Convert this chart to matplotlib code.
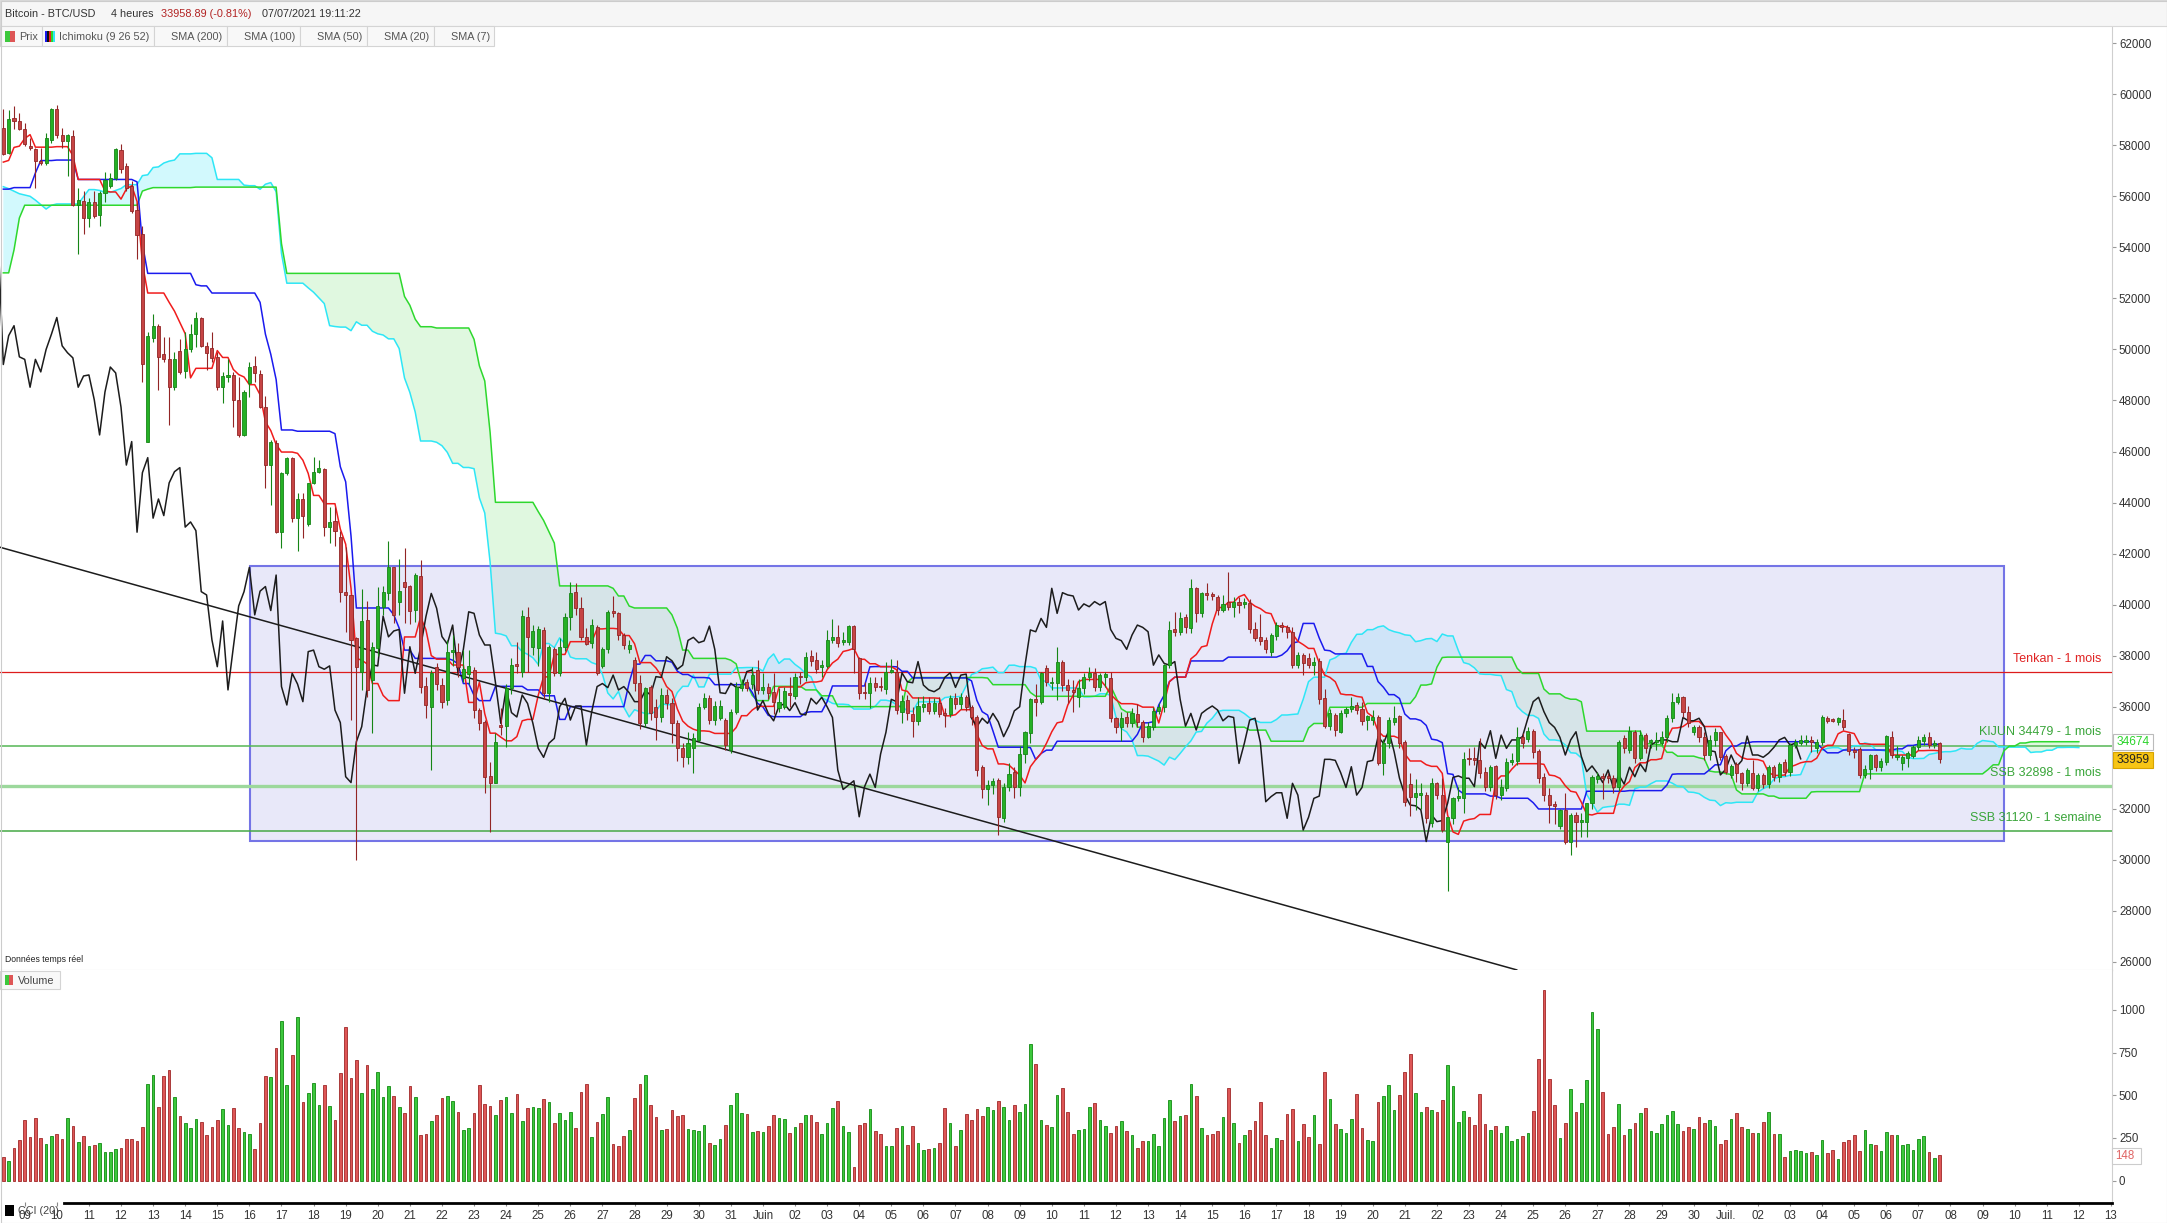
import numpy as np
import pandas as pd
import matplotlib
matplotlib.use('Agg')
import matplotlib.pyplot as plt
import matplotlib.dates as mdates
from matplotlib import font_manager
from matplotlib.patches import Rectangle
from matplotlib.lines import Line2D

plt.rcParams['font.family'] = ['Liberation Sans', 'DejaVu Sans']

W, H = 2167, 1223

# 4h candles, first one on 08/05/2021 08:00, prices in thousands of USD
start = '2021-05-08 08:00'
opens = [58.68, 57.70, 59.08, 58.94, 58.63, 57.99, 57.86, 57.40, 57.30, 58.19,
         59.41, 58.39, 58.15, 58.35, 55.67, 55.82, 55.13, 55.78, 55.27, 56.12,
         56.42, 56.71, 57.80, 57.17, 56.42, 55.47, 54.54, 46.39, 50.46, 50.93,
         49.81, 49.61, 48.52, 49.94, 49.16, 50.00, 50.60, 51.25, 50.14, 50.06,
         49.71, 48.52, 48.92, 48.98, 48.03, 46.65, 48.68, 49.35, 49.02, 47.74,
         45.47, 46.35, 42.84, 45.17, 45.76, 43.39, 44.14, 43.16, 44.77, 45.21,
         45.33, 43.04, 43.29, 42.66, 40.51, 40.38, 38.68, 37.38, 39.40, 37.05,
         38.31, 39.92, 40.47, 41.46, 40.12, 40.87, 40.73, 39.79, 41.12, 36.81,
         36.00, 37.57, 36.85, 36.27, 38.14, 38.16, 37.12, 37.30, 37.44, 35.87,
         35.42, 33.29, 33.03, 35.29, 35.25, 36.72, 37.64, 37.38, 39.53, 38.35,
         38.31, 39.00, 36.53, 38.25, 37.31, 38.35, 39.50, 40.51, 39.86, 38.75,
         38.48, 39.11, 37.60, 38.25, 39.77, 39.66, 38.81, 38.27, 37.83, 36.95,
         35.35, 36.79, 36.00, 35.60, 36.46, 36.13, 35.38, 34.37, 34.02, 34.37,
         34.70, 35.98, 36.33, 35.48, 35.55, 35.48, 34.30, 35.81, 36.75, 36.98,
         36.88, 37.44, 36.66, 36.76, 36.59, 35.94, 36.00, 36.53, 36.42, 37.18,
         37.15, 37.99, 37.83, 37.54, 37.60, 38.60, 38.72, 38.54, 38.55, 39.16,
         37.90, 36.55, 36.52, 36.92, 36.81, 36.68, 37.38, 37.38, 35.81, 36.26,
         35.72, 35.45, 35.98, 36.16, 35.85, 36.16, 35.74, 35.72, 36.33, 36.11,
         36.37, 36.00, 35.61, 33.63, 32.76, 32.93, 33.13, 31.63, 32.87, 33.46,
         32.84, 34.15, 34.96, 36.29, 36.20, 37.50, 36.92, 36.92, 37.77, 36.85,
         36.66, 36.40, 36.72, 37.15, 37.33, 36.76, 37.18, 37.11, 35.55, 35.22,
         35.58, 35.35, 35.71, 35.41, 34.80, 35.22, 35.84, 35.98, 37.63, 39.03,
         38.94, 39.50, 39.07, 40.64, 39.66, 40.47, 40.42, 40.31, 39.79, 40.12,
         39.92, 40.12, 40.03, 40.08, 39.03, 38.72, 38.61, 38.16, 38.77, 39.20,
         39.11, 38.94, 37.63, 38.03, 37.90, 37.63, 37.80, 36.33, 35.24, 35.68,
         35.02, 35.74, 35.90, 36.07, 35.90, 35.50, 35.48, 35.58, 33.78, 34.57,
         35.42, 35.63, 34.63, 32.97, 32.48, 32.54, 32.54, 31.43, 33.03, 32.54,
         30.71, 31.63, 32.41, 32.41, 33.98, 33.98, 33.90, 33.46, 32.84, 33.68,
         32.54, 32.80, 33.85, 33.89, 34.83, 34.72, 35.06, 34.28, 33.23, 32.54,
         32.20, 31.33, 31.96, 30.72, 31.76, 31.50, 31.50, 32.22, 33.16, 33.29,
         33.29, 33.20, 32.87, 34.76, 34.31, 35.02, 33.98, 34.89, 34.60, 34.60,
         34.57, 34.80, 35.55, 36.20, 36.37, 35.81, 35.02, 35.19, 34.80, 34.11,
         34.70, 35.00, 34.07, 33.33, 33.76, 33.39, 33.03, 33.39, 32.80, 33.33,
         32.97, 33.63, 33.26, 33.85, 33.46, 34.50, 34.59, 34.63, 34.70, 34.37,
         34.63, 35.55, 35.50, 35.42, 35.50, 34.93, 34.30, 34.33, 33.33, 33.55,
         34.11, 33.65, 33.85, 34.80, 34.02, 33.81, 33.98, 34.07, 34.41, 34.67,
         34.80, 34.50, 34.57]
highs = [59.41, 59.38, 59.53, 59.28, 58.88, 58.27, 57.90, 57.90, 58.49, 59.45,
         59.57, 58.68, 58.43, 58.59, 56.32, 56.22, 55.92, 56.22, 56.22, 56.95,
         56.91, 57.90, 58.03, 57.30, 56.61, 55.73, 54.84, 50.69, 51.38, 50.99,
         50.50, 50.50, 49.90, 50.40, 50.69, 50.99, 51.48, 51.29, 50.30, 50.69,
         49.90, 49.12, 49.61, 49.12, 48.92, 48.43, 49.51, 49.75, 49.21, 48.17,
         46.45, 46.45, 45.21, 45.80, 45.80, 44.38, 44.38, 44.77, 45.80, 45.66,
         45.37, 43.83, 43.83, 42.90, 42.27, 40.38, 38.75, 40.60, 40.14, 38.55,
         40.71, 40.73, 42.49, 41.49, 41.78, 42.21, 40.77, 41.25, 41.75, 37.18,
         37.44, 37.70, 37.11, 38.62, 38.82, 38.51, 38.22, 38.22, 37.57, 35.94,
         35.48, 33.85, 34.98, 35.94, 36.88, 37.90, 38.55, 39.79, 39.90, 39.20,
         39.16, 39.14, 38.42, 38.35, 38.68, 39.66, 40.90, 40.86, 40.30, 39.10,
         39.43, 39.20, 38.35, 39.79, 40.34, 39.73, 38.88, 38.60, 37.94, 37.25,
         36.79, 36.85, 36.30, 36.72, 36.68, 36.33, 35.48, 34.59, 35.02, 34.96,
         36.13, 36.52, 36.46, 36.24, 36.27, 35.55, 35.90, 36.98, 37.10, 37.10,
         37.54, 37.83, 37.33, 36.92, 37.31, 36.72, 36.79, 37.18, 37.31, 37.38,
         38.16, 38.22, 38.16, 37.83, 39.00, 39.43, 39.20, 38.94, 39.20, 39.20,
         37.96, 36.98, 37.18, 37.18, 37.18, 37.77, 37.86, 37.83, 36.46, 36.46,
         36.00, 36.37, 36.42, 36.37, 36.33, 36.37, 35.94, 36.46, 36.55, 36.55,
         36.46, 36.07, 35.68, 33.72, 33.13, 33.20, 33.20, 33.00, 33.81, 33.63,
         34.46, 35.06, 36.33, 36.89, 37.37, 37.63, 37.18, 38.33, 37.83, 37.07,
         37.05, 37.07, 37.31, 37.57, 37.50, 37.31, 37.37, 37.37, 35.61, 35.81,
         35.81, 35.94, 36.11, 35.48, 35.42, 36.00, 36.13, 37.67, 39.37, 39.72,
         39.72, 39.63, 40.99, 40.70, 40.51, 40.83, 40.51, 40.38, 40.38, 41.29,
         40.31, 40.31, 40.25, 40.21, 39.33, 39.63, 38.75, 38.90, 39.33, 39.33,
         39.20, 39.11, 38.16, 38.09, 38.09, 37.96, 37.90, 36.68, 35.90, 35.74,
         35.87, 35.98, 36.37, 36.20, 36.20, 35.68, 35.87, 35.68, 34.72, 35.58,
         36.03, 35.68, 34.70, 33.39, 33.16, 33.00, 32.67, 33.20, 33.07, 33.20,
         31.69, 32.48, 32.87, 34.24, 34.37, 34.44, 34.76, 33.65, 33.72, 33.72,
         33.16, 33.98, 34.17, 35.19, 34.96, 35.19, 35.11, 34.33, 33.39, 32.80,
         32.30, 32.00, 32.61, 31.82, 31.89, 31.85, 32.24, 33.33, 33.46, 33.42,
         33.42, 33.33, 34.70, 34.89, 35.24, 35.09, 35.09, 34.96, 34.72, 35.02,
         35.06, 35.68, 36.52, 36.55, 36.42, 36.03, 35.28, 35.28, 35.02, 34.90,
         35.15, 35.02, 34.15, 33.76, 33.85, 33.46, 33.59, 33.91, 33.39, 33.39,
         33.72, 33.72, 33.85, 33.94, 34.57, 34.72, 34.90, 34.90, 34.85, 34.72,
         35.68, 35.64, 35.55, 35.61, 35.90, 34.98, 34.41, 34.41, 33.72, 34.15,
         34.15, 33.98, 34.89, 35.06, 34.46, 34.11, 34.28, 34.50, 34.85, 34.93,
         35.02, 34.70, 34.60]
lows = [57.60, 57.66, 58.63, 58.59, 57.99, 57.80, 56.32, 57.21, 57.24, 58.09,
        58.29, 57.90, 56.81, 55.63, 53.75, 54.54, 54.80, 55.13, 54.84, 55.78,
        56.32, 56.65, 56.91, 56.22, 55.33, 53.56, 48.72, 46.39, 50.30, 48.43,
        49.51, 47.04, 48.43, 49.02, 48.88, 49.90, 50.10, 50.10, 49.21, 49.51,
        48.43, 47.89, 48.72, 46.95, 46.55, 46.59, 48.13, 48.72, 47.70, 44.58,
        43.89, 42.80, 42.21, 45.07, 43.24, 42.11, 42.60, 43.10, 44.74, 45.17,
        42.70, 42.41, 42.31, 40.12, 38.94, 35.48, 29.99, 36.66, 36.40, 34.98,
        38.00, 39.60, 40.18, 39.27, 39.60, 39.27, 39.24, 39.33, 36.53, 35.55,
        33.52, 36.66, 35.94, 36.07, 37.60, 37.18, 36.98, 36.90, 35.55, 35.10,
        32.63, 31.11, 33.00, 34.90, 34.44, 36.50, 37.31, 37.18, 37.38, 38.03,
        37.60, 36.30, 36.20, 37.20, 37.20, 38.20, 39.00, 39.60, 38.60, 38.40,
        38.30, 37.24, 37.50, 38.10, 39.50, 38.60, 38.25, 38.10, 36.60, 35.12,
        35.20, 35.50, 34.70, 35.40, 35.90, 34.59, 33.89, 33.63, 33.76, 33.39,
        34.60, 35.90, 35.32, 35.30, 35.50, 34.30, 34.20, 35.70, 36.60, 36.60,
        36.70, 36.50, 36.50, 36.30, 35.72, 35.80, 35.90, 36.00, 36.30, 36.90,
        37.00, 37.60, 37.31, 37.15, 37.50, 38.50, 38.33, 38.40, 38.40, 37.31,
        36.29, 36.29, 35.94, 36.60, 36.60, 36.50, 37.31, 35.70, 35.35, 35.50,
        34.83, 35.30, 35.80, 35.70, 35.70, 35.60, 35.22, 35.60, 35.90, 35.90,
        35.85, 35.30, 33.30, 32.41, 32.15, 32.60, 30.97, 31.50, 32.71, 32.41,
        32.50, 33.81, 34.57, 35.64, 36.10, 36.80, 36.66, 36.26, 36.60, 36.13,
        35.81, 36.00, 36.50, 37.00, 36.60, 36.60, 36.79, 35.40, 34.98, 34.67,
        35.20, 35.20, 35.20, 34.60, 34.76, 35.10, 35.70, 35.80, 37.50, 38.77,
        38.80, 38.90, 38.90, 39.33, 39.50, 40.20, 40.20, 39.60, 39.72, 39.80,
        39.53, 39.68, 39.86, 38.90, 38.59, 38.40, 38.09, 38.00, 38.60, 38.94,
        38.70, 37.50, 37.50, 37.24, 37.50, 37.24, 36.10, 35.15, 35.10, 34.85,
        34.96, 35.60, 35.80, 35.70, 35.30, 35.10, 35.30, 33.72, 33.32, 34.40,
        35.30, 34.40, 32.10, 31.72, 31.95, 31.98, 31.43, 31.30, 32.40, 31.10,
        28.80, 31.40, 32.30, 31.82, 33.70, 33.70, 33.20, 32.70, 32.70, 32.37,
        32.35, 32.70, 33.70, 33.70, 34.40, 34.60, 33.98, 33.00, 32.30, 31.46,
        31.40, 31.20, 30.62, 30.19, 30.52, 30.90, 30.90, 32.00, 33.00, 32.37,
        33.00, 32.61, 32.70, 34.20, 34.20, 33.80, 33.90, 34.20, 34.40, 34.30,
        34.50, 34.60, 35.40, 36.10, 35.60, 35.20, 34.90, 34.60, 33.90, 33.90,
        34.46, 33.90, 33.37, 33.20, 33.07, 32.74, 32.90, 32.74, 32.71, 32.80,
        32.80, 33.10, 33.07, 33.30, 33.30, 34.40, 34.50, 34.50, 34.24, 34.20,
        34.50, 35.35, 35.40, 35.30, 35.10, 34.10, 34.00, 33.20, 33.20, 33.16,
        33.50, 33.50, 33.70, 33.98, 33.90, 33.52, 33.65, 33.98, 34.30, 34.50,
        34.40, 34.40, 33.80]
closes = [57.66, 59.04, 58.94, 58.63, 58.03, 57.90, 57.40, 57.30, 58.29, 59.41,
          58.39, 58.15, 58.39, 55.67, 55.86, 55.13, 55.78, 55.23, 56.12, 56.65,
          56.71, 57.84, 57.05, 56.32, 55.43, 54.48, 49.41, 50.54, 50.93, 49.71,
          49.61, 48.52, 49.61, 49.12, 50.00, 50.60, 51.25, 50.14, 49.87, 49.67,
          48.52, 48.96, 49.00, 48.03, 46.65, 48.33, 49.31, 49.08, 47.74, 45.47,
          46.39, 42.84, 45.17, 45.76, 43.39, 44.14, 43.49, 44.77, 45.21, 45.37,
          43.04, 43.24, 42.90, 40.51, 40.38, 38.62, 37.57, 39.36, 36.66, 38.33,
          39.95, 40.51, 41.46, 39.60, 40.53, 40.71, 39.77, 41.16, 36.79, 36.07,
          37.31, 36.89, 36.20, 38.16, 38.22, 37.57, 37.47, 37.60, 35.87, 35.38,
          33.26, 33.03, 34.63, 35.22, 36.72, 37.64, 37.60, 39.55, 38.74, 38.97,
          39.03, 36.53, 38.35, 37.31, 38.33, 39.53, 40.44, 39.86, 38.75, 38.46,
          39.20, 37.31, 38.25, 39.72, 39.66, 38.81, 38.42, 38.42, 36.95, 35.35,
          36.72, 35.77, 35.60, 36.46, 36.13, 35.35, 34.37, 34.02, 34.57, 34.76,
          36.00, 36.33, 35.48, 36.03, 36.03, 34.50, 35.81, 36.79, 36.91, 36.75,
          37.24, 36.66, 36.79, 36.55, 36.20, 36.20, 36.63, 36.46, 37.18, 37.15,
          37.96, 37.80, 37.47, 37.63, 38.60, 38.72, 38.51, 38.58, 39.16, 38.25,
          36.55, 36.52, 36.92, 36.76, 36.76, 37.38, 37.44, 35.87, 36.24, 35.74,
          35.45, 36.03, 36.11, 35.85, 36.16, 35.72, 35.68, 36.33, 36.11, 36.37,
          36.00, 35.58, 33.52, 32.76, 32.93, 33.10, 31.69, 32.87, 33.36, 32.84,
          34.15, 35.00, 36.29, 36.20, 37.33, 36.98, 36.94, 37.77, 36.85, 36.66,
          36.59, 36.72, 37.15, 37.33, 36.76, 37.24, 37.28, 35.55, 35.22, 35.55,
          35.35, 35.74, 35.41, 34.83, 35.25, 35.84, 36.00, 37.63, 39.01, 38.94,
          39.46, 39.11, 40.64, 39.66, 40.47, 40.38, 40.34, 39.79, 40.03, 39.92,
          40.12, 39.99, 40.12, 39.03, 38.68, 38.59, 38.25, 38.81, 39.20, 39.11,
          38.94, 37.63, 38.03, 37.70, 37.63, 37.77, 36.29, 35.24, 35.74, 35.09,
          35.74, 35.90, 36.03, 35.87, 35.45, 35.63, 35.58, 33.78, 34.57, 35.48,
          35.55, 34.59, 32.28, 32.48, 32.63, 32.63, 31.63, 33.00, 32.54, 31.17,
          31.67, 32.41, 32.50, 33.94, 33.94, 33.90, 33.42, 32.84, 33.65, 32.54,
          32.84, 33.85, 33.90, 34.83, 34.57, 35.06, 34.24, 33.20, 32.54, 32.15,
          32.12, 31.96, 30.72, 31.76, 31.50, 31.54, 32.22, 33.23, 33.29, 33.20,
          33.20, 32.87, 34.63, 34.37, 35.06, 33.98, 34.89, 34.37, 34.70, 34.70,
          34.83, 35.55, 36.20, 36.37, 35.81, 35.38, 35.19, 34.80, 34.11, 34.70,
          35.02, 34.05, 33.46, 33.68, 33.39, 33.03, 33.52, 32.80, 33.33, 32.97,
          33.63, 33.26, 33.76, 33.46, 34.50, 34.63, 34.70, 34.70, 34.63, 34.63,
          35.58, 35.45, 35.45, 35.55, 35.22, 34.28, 34.24, 33.33, 33.55, 34.11,
          33.65, 33.89, 34.85, 34.11, 34.11, 34.02, 34.18, 34.41, 34.70, 34.80,
          34.50, 34.57, 33.96]
volumes = [137, 115, 189, 236, 353, 254, 365, 248, 215, 260,
           271, 242, 365, 318, 227, 260, 201, 207, 219, 166,
           166, 184, 189, 242, 242, 230, 312, 566, 617, 432,
           611, 646, 488, 377, 336, 307, 359, 342, 266, 312,
           353, 418, 324, 424, 307, 283, 271, 184, 336, 611,
           605, 775, 935, 558, 734, 957, 459, 512, 570, 441,
           558, 435, 353, 629, 898, 600, 705, 512, 676, 535,
           635, 488, 553, 494, 430, 394, 553, 488, 266, 271,
           348, 383, 482, 494, 465, 400, 295, 307, 394, 558,
           447, 435, 383, 471, 488, 394, 506, 348, 424, 430,
           424, 476, 459, 336, 394, 353, 400, 307, 517, 564,
           254, 342, 389, 488, 213, 201, 260, 295, 482, 564,
           617, 441, 371, 295, 301, 412, 377, 383, 301, 295,
           289, 324, 219, 207, 242, 324, 441, 512, 394, 389,
           283, 289, 283, 318, 383, 365, 359, 277, 312, 336,
           383, 383, 342, 271, 336, 424, 465, 318, 283, 78,
           324, 336, 418, 289, 271, 201, 201, 307, 318, 207,
           318, 219, 178, 184, 189, 219, 424, 336, 201, 295,
           389, 353, 418, 377, 430, 412, 465, 430, 353, 441,
           400, 447, 799, 682, 353, 324, 312, 500, 541, 400,
           271, 295, 301, 430, 453, 353, 318, 277, 318, 348,
           289, 266, 189, 230, 230, 271, 201, 365, 471, 348,
           377, 383, 564, 494, 307, 266, 271, 289, 371, 541,
           336, 219, 266, 295, 348, 459, 266, 189, 248, 236,
           389, 418, 230, 330, 254, 383, 213, 635, 477, 330,
           301, 277, 359, 506, 307, 236, 230, 459, 494, 558,
           412, 500, 635, 740, 512, 400, 430, 412, 400, 471,
           676, 553, 342, 406, 371, 324, 506, 330, 295, 318,
           277, 318, 230, 242, 260, 277, 406, 711, 1115, 594,
           441, 248, 336, 535, 400, 453, 588, 986, 887, 518,
           271, 312, 447, 266, 301, 336, 394, 424, 289, 277,
           330, 383, 406, 330, 289, 312, 301, 371, 336, 353,
           318, 213, 236, 359, 394, 312, 301, 277, 277, 342,
           400, 271, 271, 137, 172, 178, 172, 160, 166, 148,
           236, 160, 178, 125, 225, 236, 266, 172, 295, 213,
           207, 172, 283, 266, 266, 207, 213, 178, 242, 260,
           166, 131, 148]

# highs / lows of the 78 candles before the window (they only feed the Ichimoku)
pre_highs = [49.6, 48.8, 48.0, 49.8, 51.9, 53.6, 54.2, 54.4, 54.5, 54.8,
             55.0, 54.7, 55.2, 55.5, 55.2, 54.9, 54.6, 54.4, 55.3, 56.2,
             56.4, 55.7, 55.0, 54.4, 53.9, 53.6, 53.4, 54.0, 54.6, 55.8,
             56.9, 57.6, 57.9, 58.0, 57.7, 58.2, 58.3, 57.9, 57.5, 57.0,
             56.8, 57.1, 57.0, 56.6, 56.9, 57.4, 57.9, 58.5, 58.9, 58.7,
             58.2, 57.5, 56.6, 55.4, 54.6, 54.3, 54.0, 54.2, 54.5, 55.6,
             56.8, 57.4, 57.6, 57.3, 57.0, 56.6, 56.4, 56.9, 57.3, 56.8,
             56.2, 56.5, 57.2, 57.6, 58.1, 58.7, 58.5, 58.6]
pre_lows = [48.4, 47.6, 47.1, 48.9, 51.4, 52.6, 53.1, 53.5, 53.7, 53.9,
            54.1, 53.9, 54.2, 54.6, 54.3, 54.0, 53.6, 53.4, 54.0, 54.9,
            55.2, 54.5, 53.9, 53.3, 52.9, 52.8, 52.4, 53.0, 53.5, 54.3,
            55.4, 56.3, 56.9, 57.0, 56.8, 57.2, 57.4, 56.9, 56.4, 56.0,
            55.9, 56.1, 56.0, 55.6, 55.9, 56.4, 56.9, 57.3, 57.8, 57.6,
            56.9, 55.8, 54.7, 53.9, 53.5, 53.3, 53.2, 53.2, 53.15, 54.3,
            55.4, 56.3, 56.5, 56.2, 55.9, 55.6, 55.4, 55.8, 56.3, 55.8,
            55.27, 55.4, 56.3, 56.4, 57.0, 57.5, 57.3, 57.5]
# close of the candle just before the window (start of the lagging line)
pre_close = 54.48

price_ticks = list(range(26000, 62001, 2000))
volume_ticks = [0, 250, 500, 750, 1000]

level_prices = [37350, 34479, 32898, 31120]
level_names = ['Tenkan - 1 mois', 'KIJUN 34479 - 1 mois', 'SSB 32898 - 1 mois',
               'SSB 31120 - 1 semaine']
level_colors = ['#dd1c1c', '#55b655', '#9cd89c', '#45a845']
level_widths = [0.9, 1.1, 2.4, 1.1]
level_text_colors = ['#e02424', '#3aa53a', '#3aa53a', '#3aa53a']

box_times = ['2021-05-16 00:30', '2021-07-09 16:00']
box_prices = [30740, 41514]
trend_times = ['2021-05-08 05:30', '2021-06-24 11:40']
trend_prices = [42250, 25690]

kijun_tag = '34674'
last_tag = '33959'
volume_tag = '148'
sma_items = ['SMA (200)', 'SMA (100)', 'SMA (50)', 'SMA (20)', 'SMA (7)']

# the site uses a narrow sans for its header texts
try:
    font_manager.findfont(font_manager.FontProperties(family='Liberation Sans Narrow'),
                          fallback_to_default=False)
    ui_font = ['Liberation Sans Narrow', 'DejaVu Sans']
    ui_size = 9.2
except ValueError:
    ui_font = ['Liberation Sans', 'DejaVu Sans']
    ui_size = 7.8

o = np.array(opens) * 1000
h = np.array(highs) * 1000
l = np.array(lows) * 1000
c = np.array(closes) * 1000
v = np.array(volumes)
n = len(c)

times = pd.date_range(start, periods=n + 26, freq='4h')
x = mdates.date2num(times)
xc = x[:n]
step = x[1] - x[0]

# Ichimoku (9 26 52)
hh = pd.Series(np.r_[pre_highs, highs] * 1000)
ll = pd.Series(np.r_[pre_lows, lows] * 1000)
npre = len(pre_highs)


def mid(p):
    return ((hh.rolling(p).max() + ll.rolling(p).min()) / 2).values


tenkan = mid(9)
kijun = mid(26)
span_a = ((tenkan + kijun) / 2)[npre - 26:]
span_b = mid(52)[npre - 26:]
tenkan = tenkan[npre:]
kijun = kijun[npre:]
chikou = np.r_[pre_close * 1000, c][26:]
chikou_x = x[0] + (np.arange(len(chikou)) - 1) * step

fig = plt.figure(figsize=(W / 100, H / 100), dpi=100)
fig.patch.set_facecolor('white')
ax = fig.add_axes([0, (H - 970) / H, 2112 / W, (970 - 27) / H])
axv = fig.add_axes([0, (H - 1202) / H, 2112 / W, (1202 - 970) / H], sharex=ax)

# cloud
ax.fill_between(x, span_a, span_b, where=span_a >= span_b, interpolate=True,
                color='#d2f9fd', lw=0, zorder=1)
ax.fill_between(x, span_a, span_b, where=span_a < span_b, interpolate=True,
                color='#e0f8e0', lw=0, zorder=1)

# range box
bx = mdates.date2num(pd.to_datetime(box_times))
ax.add_patch(Rectangle((bx[0], box_prices[0]), bx[1] - bx[0], box_prices[1] - box_prices[0],
                       facecolor=(0.80, 0.80, 0.95, 0.45), edgecolor='#7474e6', lw=1.5, zorder=2))

# horizontal levels
for p, name, col, lw, tcol in zip(level_prices, level_names, level_colors, level_widths, level_text_colors):
    ax.axhline(p, color=col, lw=lw, zorder=3)
    ax.annotate(name, xy=(2101 / 2112, p), xycoords=ax.get_yaxis_transform(),
                xytext=(0, 9.5), textcoords='offset points', ha='right', va='center',
                fontsize=9, color=tcol, zorder=7)

# ichimoku lines
ax.plot(x, span_a, color='#2ee6f6', lw=1.1, zorder=4)
ax.plot(x, span_b, color='#2ed82e', lw=1.1, zorder=4)
ax.plot(xc, kijun, color='#1a1aee', lw=1.1, zorder=4)
ax.plot(xc, tenkan, color='#f01c1c', lw=1.1, zorder=4)
ax.plot(chikou_x, chikou, color='#1c1c1c', lw=1.1, zorder=4)

# trendline
tx = mdates.date2num(pd.to_datetime(trend_times))
ax.plot(tx, trend_prices, color='#1c1c1c', lw=1.1, zorder=4)

# candles
up = c >= o
edge = np.where(up, '#168516', '#922525')
face = np.where(up, '#25b025', '#c64444')
ax.vlines(xc, l, h, colors=edge, lw=0.8, zorder=5)
ax.bar(xc, np.maximum(np.abs(c - o), 60), bottom=np.minimum(o, c), width=step * 0.58,
       color=face, edgecolor=edge, lw=0.6, zorder=6)

ax.set_xlim(x[0] - 0.62 * step, x[0] + 394.2 * step)
ax.set_ylim(25686, 62633)
ax.set_yticks(price_ticks)
ax.set_yticklabels([str(p) for p in price_ticks])
ax.yaxis.tick_right()
ax.tick_params(axis='y', length=3, width=0.8, color='#9a9a9a', labelsize=8.3,
               labelcolor='#333333', pad=2)
ax.tick_params(axis='x', bottom=False, labelbottom=False)
for s in ['top', 'left']:
    ax.spines[s].set_visible(False)
ax.spines['right'].set_color('#cfcfcf')
ax.spines['bottom'].set_color('#cfcfcf')

# volume
vface = np.where(up, '#3cc83c', '#de5656')
vedge = np.where(up, '#118a11', '#a02828')
axv.bar(xc, v, width=step * 0.5, color=vface, edgecolor=vedge, lw=0.6)
axv.set_ylim(-125, 1234)
axv.set_yticks(volume_ticks)
axv.set_yticklabels([str(t) for t in volume_ticks])
axv.yaxis.tick_right()
axv.tick_params(axis='y', length=3, width=0.8, color='#9a9a9a', labelsize=8.3,
                labelcolor='#333333', pad=2)
day_ticks = pd.date_range('2021-05-09', '2021-07-13', freq='D')
month_names = {6: 'Juin', 7: 'Juil.'}
day_labels = [month_names[d.month] if d.day == 1 else f'{d.day:02d}' for d in day_ticks]
axv.set_xticks(mdates.date2num(day_ticks))
axv.set_xticklabels(day_labels)
axv.tick_params(axis='x', length=3, width=0.8, color='#888888', labelsize=8.3,
                labelcolor='#333333', pad=2.5)
for s in ['top', 'left', 'bottom']:
    axv.spines[s].set_visible(False)
axv.spines['right'].set_color('#cfcfcf')


# interface elements, placed in pixels from the top-left corner
def fbox(x0, y0, x1, y1, **kw):
    r = Rectangle((x0 / W, 1 - y1 / H), (x1 - x0) / W, (y1 - y0) / H,
                  transform=fig.transFigure, **kw)
    fig.add_artist(r)


def ftext(px, py, s, **kw):
    fig.text(px / W, 1 - py / H, s, va='center', **kw)


fbox(0, 0, W, 26, facecolor='#f6f6f6', edgecolor='#d8d8d8', lw=0.8)
ftext(5, 14, 'Bitcoin - BTC/USD', family=ui_font, fontsize=ui_size, color='#333333')
ftext(111, 14, '4 heures', family=ui_font, fontsize=ui_size, color='#333333')
ftext(161, 14, '33958.89 (-0.81%)', family=ui_font, fontsize=ui_size, color='#b22222')
ftext(262, 14, '07/07/2021 19:11:22', family=ui_font, fontsize=ui_size, color='#333333')

seps = [0, 41.5, 153.6, 227, 300, 366.5, 433.5, 494]
for a, b in zip(seps[:-1], seps[1:]):
    fbox(a, 26, b, 46, facecolor='#f8f8f8', edgecolor='#d4d4d4', lw=0.8)
fbox(5, 31, 10, 42, facecolor='#3cc83c', lw=0)
fbox(10, 31, 15, 42, facecolor='#de5656', lw=0)
ftext(19, 36.5, 'Prix', family=ui_font, fontsize=ui_size, color='#555555')
for i, col in enumerate(['#1a1aee', '#111111', '#f01c1c', '#2ed82e', '#2ee6f6']):
    fbox(45 + 2 * i, 31, 47 + 2 * i, 42, facecolor=col, lw=0)
ftext(59, 36.5, 'Ichimoku (9 26 52)', family=ui_font, fontsize=ui_size, color='#555555')
for sx, name in zip([171, 244, 317, 384, 451], sma_items):
    ftext(sx, 36.5, name, family=ui_font, fontsize=ui_size, color='#555555')

ftext(5, 960, 'Données temps réel', family=ui_font, fontsize=ui_size * 0.8, color='#222222')
fbox(0, 971, 60, 989, facecolor='#f8f8f8', edgecolor='#d4d4d4', lw=0.8)
fbox(5, 975, 9, 985, facecolor='#3cc83c', lw=0)
fbox(9, 975, 13, 985, facecolor='#de5656', lw=0)
ftext(18, 980.5, 'Volume', family=ui_font, fontsize=ui_size, color='#444444')

# price tags on the axis
fbox(2113, 734, 2153, 750, facecolor='white', edgecolor='#bbbbbb', lw=0.8)
ftext(2117, 742, kijun_tag, fontsize=8.6, color='#2bd42b')
fbox(2113, 752, 2153, 768, facecolor='#f7c515', edgecolor='#d8a400', lw=0.8)
ftext(2117, 760, last_tag, fontsize=8.6, color='#222222')
fbox(2112, 1148, 2141, 1164, facecolor='white', edgecolor='#cccccc', lw=0.8)
ftext(2115, 1156, volume_tag, fontsize=8.3, color='#e06464')

# bottom strip
fig.add_artist(Line2D([64 / W, 2112 / W], [1 - 1202.5 / H] * 2, color='black', lw=2.0,
                      transform=fig.transFigure))
fbox(5, 1205, 14, 1216, facecolor='black', lw=0)
ftext(18, 1211, 'CCI (20)', family=ui_font, fontsize=ui_size, color='#444444')
fbox(0.5, 0.5, W - 0.5, H - 0.5, facecolor='none', edgecolor='#cccccc', lw=0.8)

fig.savefig('out.png', dpi=100)
